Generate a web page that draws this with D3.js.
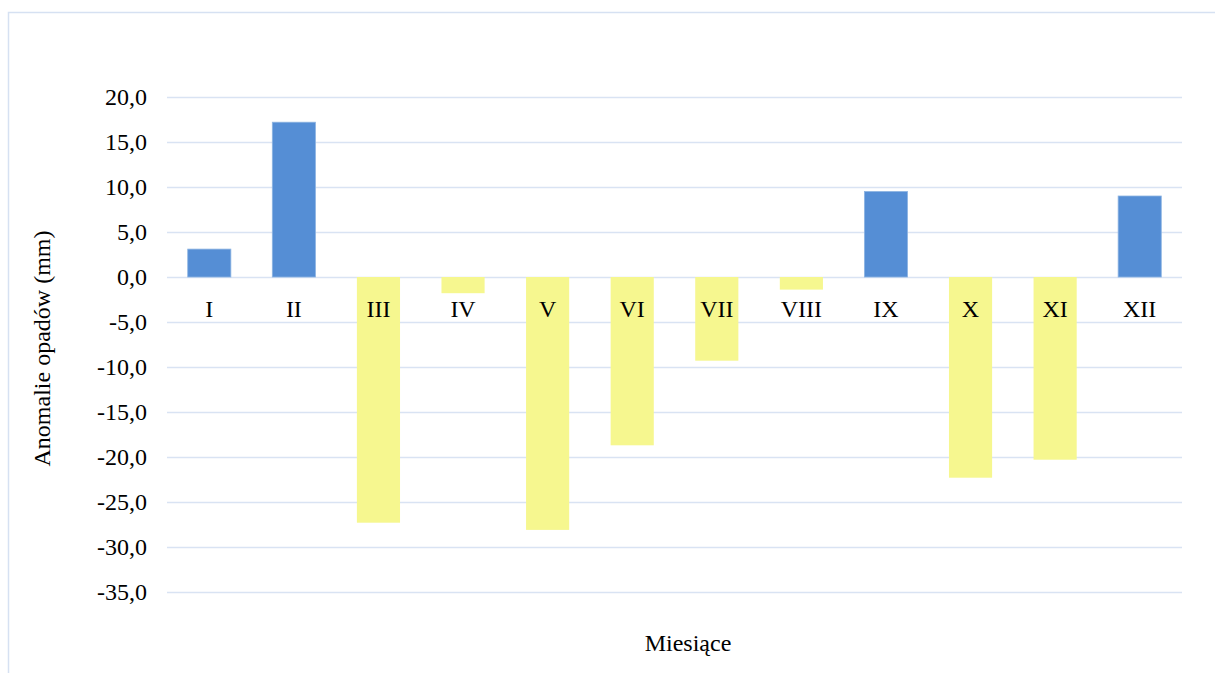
<!DOCTYPE html>
<html>
<head>
<meta charset="utf-8">
<script src="https://cdn.jsdelivr.net/npm/d3@7"></script>
<style>
  html, body { margin: 0; padding: 0; background: #fff; }
  svg { display: block; }
  svg text { font-family: "Liberation Serif", "Times New Roman", serif; }
</style>
</head>
<body>
<div id="chart"></div>
<script>
(function () {
  'use strict';

  // ── Data ──
  var MONTHS = ['I', 'II', 'III', 'IV', 'V', 'VI', 'VII', 'VIII', 'IX', 'X', 'XI', 'XII'];
  var ANOMALIES = [3.1, 17.2, -27.3, -1.8, -28.1, -18.7, -9.3, -1.4, 9.5, -22.3, -20.3, 9.0];
  var Y_TICKS = [20, 15, 10, 5, 0, -5, -10, -15, -20, -25, -30, -35];

  // ── Constants ──
  var WIDTH = 1215;
  var HEIGHT = 673;
  var MARGIN = { top: 97, right: 33, bottom: 81, left: 167 };
  var COLOR_POS = '#558ED5';
  var COLOR_POS_EDGE = '#8DB4E2';
  var COLOR_NEG = '#F6F78F';
  var GRID_COLOR = '#D9E3F3';
  var FRAME_COLOR = '#D6E1F2';
  var FONT = '"Liberation Serif", "Times New Roman", serif';
  var FONT_SIZE = '24px';

  var innerWidth = WIDTH - MARGIN.left - MARGIN.right;
  var innerHeight = HEIGHT - MARGIN.top - MARGIN.bottom;

  var svg = d3.select('#chart').append('svg')
    .attr('width', WIDTH)
    .attr('height', HEIGHT);

  // outer chart frame (runs past right/bottom edges)
  svg.append('rect')
    .attr('x', 8.5).attr('y', 12.5)
    .attr('width', WIDTH + 20).attr('height', HEIGHT + 20)
    .attr('fill', 'none')
    .attr('stroke', FRAME_COLOR)
    .attr('stroke-width', 1.5);

  var g = svg.append('g')
    .attr('transform', 'translate(' + MARGIN.left + ',' + MARGIN.top + ')');

  var x = d3.scaleBand()
    .domain(MONTHS)
    .range([0, innerWidth])
    .paddingInner(0.49)
    .paddingOuter(0.245);

  var y = d3.scaleLinear()
    .domain([-35, 20])
    .range([innerHeight, 0]);

  // ── Gridlines + tick labels ──
  var yAxis = d3.axisLeft(y)
    .tickValues(Y_TICKS)
    .tickSize(-innerWidth)
    .tickPadding(20)
    .tickFormat(function (d) { return d3.format('.1f')(d).replace('.', ',').replace('−', '-'); });

  var yg = g.append('g').call(yAxis)
    .attr('font-family', FONT)
    .attr('font-size', FONT_SIZE);
  yg.select('.domain').remove();
  yg.selectAll('.tick line')
    .attr('stroke', GRID_COLOR)
    .attr('stroke-width', 1.5);
  yg.selectAll('.tick text')
    .attr('fill', '#000');

  // ── Bars ──
  g.selectAll('.bar')
    .data(MONTHS)
    .join('rect')
    .attr('class', 'bar')
    .attr('x', function (d) { return x(d); })
    .attr('width', x.bandwidth())
    .attr('y', function (d, i) { return y(Math.max(0, ANOMALIES[i])); })
    .attr('height', function (d, i) { return Math.abs(y(ANOMALIES[i]) - y(0)); })
    .attr('fill', function (d, i) { return ANOMALIES[i] >= 0 ? COLOR_POS : COLOR_NEG; })
    .attr('stroke', function (d, i) { return ANOMALIES[i] >= 0 ? COLOR_POS_EDGE : 'none'; })
    .attr('stroke-width', 0.8);

  // ── Category labels (just under the zero line) ──
  g.selectAll('.cat-label')
    .data(MONTHS)
    .join('text')
    .attr('class', 'cat-label')
    .attr('x', function (d) { return x(d) + x.bandwidth() / 2; })
    .attr('y', y(0) + 40)
    .attr('text-anchor', 'middle')
    .attr('font-size', FONT_SIZE)
    .attr('fill', '#000')
    .text(function (d) { return d; });

  // ── Axis titles ──
  svg.append('text')
    .attr('transform', 'translate(50,' + (MARGIN.top + innerHeight / 2 + 4) + ') rotate(-90)')
    .attr('text-anchor', 'middle')
    .attr('font-size', FONT_SIZE)
    .attr('fill', '#000')
    .text('Anomalie opadów (mm)');

  svg.append('text')
    .attr('x', 688)
    .attr('y', 651)
    .attr('text-anchor', 'middle')
    .attr('font-size', FONT_SIZE)
    .attr('fill', '#000')
    .text('Miesiące');
})();
</script>
</body>
</html>
